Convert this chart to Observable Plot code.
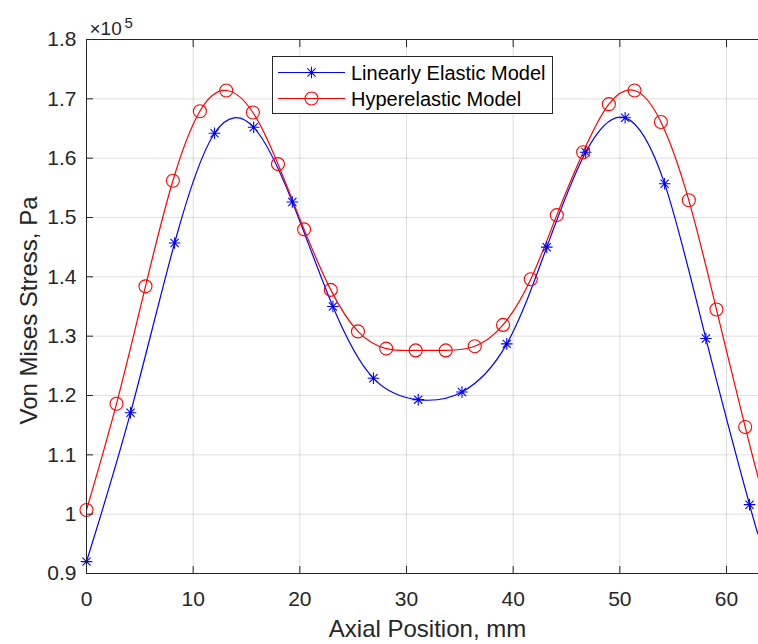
<!DOCTYPE html>
<html><head><meta charset="utf-8">
<script src="https://cdn.jsdelivr.net/npm/d3@7"></script>
<script src="https://cdn.jsdelivr.net/npm/@observablehq/plot@0.6"></script>
<style>
body{margin:0;background:#fff;}
#chart{width:758px;height:644px;}
</style></head><body><div id="chart"></div>
<script>
// ---- data (stress in units of 10^5 Pa) ----
const xDomain = [0, 63];
const yDomain = [0.9, 1.8];
const xTicks = [0, 10, 20, 30, 40, 50, 60];
const yTicks = [0.9, 1, 1.1, 1.2, 1.3, 1.4, 1.5, 1.6, 1.7, 1.8];
const seriesNames = ["Linearly Elastic Model", "Hyperelastic Model"];
const seriesColors = ["#0000ff", "#ff0000"];
const linX = [0, 4.13, 8.26, 12.0, 15.67, 19.3, 23.1, 26.9, 31.1, 35.2, 39.4, 43.15, 46.8, 50.5, 54.2, 58.07, 62.16];
const linY = [0.920, 1.171, 1.457, 1.642, 1.652, 1.526, 1.350, 1.229, 1.193, 1.206, 1.287, 1.450, 1.610, 1.668, 1.557, 1.296, 1.016];
const hypX = [0, 2.81, 5.53, 8.1, 10.63, 13.1, 15.6, 17.95, 20.4, 22.9, 25.45, 28.1, 30.86, 33.68, 36.4, 39.05, 41.65, 44.09, 46.56, 48.97, 51.38, 53.85, 56.47, 59.06, 61.75];
const hypY = [1.007, 1.186, 1.384, 1.562, 1.679, 1.714, 1.677, 1.590, 1.480, 1.378, 1.308, 1.279, 1.276, 1.276, 1.283, 1.319, 1.396, 1.504, 1.610, 1.691, 1.714, 1.661, 1.529, 1.345, 1.147];
const edgeX = 63;           // curves continue to the right edge
const linEdgeY = 0.967;
const hypEdgeY = 1.060;
const exponentBase = "×10";
const exponent = "5";
const xLabel = "Axial Position, mm";
const yLabel = "Von Mises Stress, Pa";

// ---- build tables ----
const lin = linX.map((x, i) => ({x, y: linY[i]}));
const hyp = hypX.map((x, i) => ({x, y: hypY[i]}));
const linCurve = lin.concat([{x: edgeX, y: linEdgeY}]);
const hypCurve = hyp.concat([{x: edgeX, y: hypEdgeY}]);

const asterisk = {
  draw(ctx, size) {
    const r = Math.sqrt(size / Math.PI);
    const d = r * Math.SQRT1_2;
    ctx.moveTo(-r, 0); ctx.lineTo(r, 0);
    ctx.moveTo(0, -r); ctx.lineTo(0, r);
    ctx.moveTo(-d, -d); ctx.lineTo(d, d);
    ctx.moveTo(-d, d); ctx.lineTo(d, -d);
  }
};

const font = "'Liberation Sans', Arial, Helvetica, sans-serif";
const axisColor = "#262626";

const plot = Plot.plot({
  width: 758,
  height: 644,
  marginLeft: 86,
  marginRight: 0,
  marginTop: 39,
  marginBottom: 71,
  style: {fontFamily: font, fontSize: "21px", background: "#fff", overflow: "visible"},
  x: {domain: xDomain},
  y: {domain: yDomain},
  marks: [
    Plot.gridX(xTicks, {stroke: axisColor, strokeOpacity: 0.15, strokeWidth: 1}),
    Plot.gridY(yTicks, {stroke: axisColor, strokeOpacity: 0.15, strokeWidth: 1}),
    Plot.line(linCurve, {x: "x", y: "y", stroke: seriesColors[0], strokeWidth: 1.2, curve: "natural", clip: true}),
    Plot.line(hypCurve, {x: "x", y: "y", stroke: seriesColors[1], strokeWidth: 1.2, curve: "natural", clip: true}),
    Plot.dot(lin, {x: "x", y: "y", symbol: asterisk, r: 5.8, stroke: seriesColors[0], fill: "none", strokeWidth: 1.1}),
    Plot.dot(hyp, {x: "x", y: "y", symbol: "circle", r: 6.5, stroke: seriesColors[1], fill: "none", strokeWidth: 1.1}),
    Plot.frame({anchor: "left", stroke: axisColor}),
    Plot.frame({anchor: "bottom", stroke: axisColor}),
    Plot.frame({anchor: "top", stroke: axisColor}),
    Plot.axisX({anchor: "bottom", ticks: xTicks, tickSize: -7, tickPadding: 25, color: axisColor, label: null, fontSize: 21}),
    Plot.axisX({anchor: "top", ticks: xTicks, tickSize: -7, tickFormat: () => "", color: axisColor, label: null}),
    Plot.axisY({anchor: "left", ticks: yTicks, tickSize: -7, tickPadding: 17, color: axisColor, label: null, fontSize: 21,
      tickFormat: d => String(+d.toFixed(1))}),
    Plot.text([xLabel], {frameAnchor: "bottom", textAnchor: "middle", dx: 5, dy: 56, fontSize: 24, fill: axisColor, lineAnchor: "middle"}),
    Plot.text([yLabel], {frameAnchor: "left", textAnchor: "middle", rotate: -90, dx: -57, dy: 4, fontSize: 24, fill: axisColor, lineAnchor: "middle"}),
    Plot.text([exponentBase], {frameAnchor: "top-left", textAnchor: "start", lineAnchor: "bottom", dx: 3, dy: -5, fontSize: 19, fill: axisColor}),
    Plot.text([exponent], {frameAnchor: "top-left", textAnchor: "start", lineAnchor: "bottom", dx: 38, dy: -12, fontSize: 15, fill: axisColor})
  ]
});

document.getElementById("chart").appendChild(plot);

// ---- legend (inside plot area, like MATLAB) ----
const svg = d3.select(plot);
const lg = svg.append("g").attr("font-family", font).attr("font-size", 20).attr("text-anchor", "start");
lg.append("rect").attr("x", 272.5).attr("y", 56.5).attr("width", 280).attr("height", 57)
  .attr("fill", "#fff").attr("stroke", axisColor).attr("stroke-width", 1);
const rows = [72.5, 98.5];
seriesNames.forEach((name, i) => {
  const y = rows[i];
  lg.append("line").attr("x1", 278).attr("x2", 345).attr("y1", y).attr("y2", y)
    .attr("stroke", seriesColors[i]).attr("stroke-width", 1.2);
  if (i === 0) {
    const sym = d3.path(); asterisk.draw(sym, Math.PI * 5.8 * 5.8);
    lg.append("path").attr("d", sym.toString()).attr("transform", `translate(311.5,${y})`)
      .attr("stroke", seriesColors[i]).attr("fill", "none").attr("stroke-width", 1.1);
  } else {
    lg.append("circle").attr("cx", 311.5).attr("cy", y).attr("r", 6.5)
      .attr("stroke", seriesColors[i]).attr("fill", "none").attr("stroke-width", 1.1);
  }
  lg.append("text").attr("x", 351).attr("y", y).attr("dy", "0.35em").attr("text-anchor", "start")
    .attr("fill", "#000").text(name);
});
</script>
</body></html>
